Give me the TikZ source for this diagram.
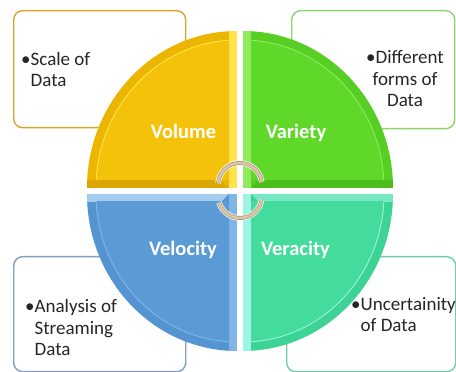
\documentclass[tikz,border=0pt]{standalone}
\usepackage{fontspec}
\setmainfont{Carlito}
\usepackage{tikz}
\usetikzlibrary{positioning}
% face, light bevel, edge bevel, straight-edge bevel and frame colour of each quarter
\definecolor{volume}{HTML}{F4C20A}
\definecolor{volumeL}{HTML}{FFE44E}
\definecolor{volumeD}{HTML}{EBB500}
\definecolor{volumeH}{HTML}{DCA600}
\definecolor{volumeB}{HTML}{D4A62A}
\definecolor{variety}{HTML}{60D82A}
\definecolor{varietyL}{HTML}{8DEB5C}
\definecolor{varietyD}{HTML}{57CE24}
\definecolor{varietyH}{HTML}{4BBE1C}
\definecolor{varietyB}{HTML}{8FD46A}
\definecolor{velocity}{HTML}{5B9BD5}
\definecolor{velocityL}{HTML}{80B6E6}
\definecolor{velocityD}{HTML}{5494D0}
\definecolor{velocityH}{HTML}{A4CCEF}
\definecolor{velocityB}{HTML}{7E9FC8}
\definecolor{veracity}{HTML}{44DC9C}
\definecolor{veracityL}{HTML}{9CF4E2}
\definecolor{veracityD}{HTML}{3DD394}
\definecolor{veracityH}{HTML}{7AE8C4}
\definecolor{veracityB}{HTML}{6CCFA6}
\definecolor{ring}{HTML}{D9C7A6}
\definecolor{ringedge}{HTML}{A8957A}

\begin{document}
\begin{tikzpicture}[
  x=1pt,y=1pt,
  box/.style={draw,rounded corners=9pt,line width=1.4pt,fill=white,
              inner sep=0pt,anchor=north west},
  note/.style={align=left,inner sep=0pt,font=\fontsize{19}{21.5}\selectfont,
               text=black!85},
  vlabel/.style={inner sep=0pt,anchor=base,text=white,
                 font=\fontsize{20.5}{24}\selectfont\bfseries},
  ring/.style={draw=ringedge,line width=0.7pt,double=ring,double distance=2.6pt,
               preaction={draw=white,line width=5.5pt}}
]
\useasboundingbox (0,0) rectangle (456,372);

% text frames behind the circle
\node[box,draw=volumeB,minimum width=172pt,minimum height=117pt] (scalebox) at (13,362) {};
\node[box,draw=varietyB,minimum width=163pt,minimum height=118pt] (formsbox) at (291,362) {};
\node[box,draw=velocityB,minimum width=172pt,minimum height=115pt] (streambox) at (13,116) {};
\node[box,draw=veracityB,minimum width=169pt,minimum height=115pt] (uncertbox) at (286,116) {};

% the four bevelled quarters
\foreach \cx/\cy/\sx/\sy/\ai/\aii/\fc/\lc/\dc/\hc in
  {237/184/-1/1/180/90/volume/volumeL/volumeD/volumeH,
   243/184/1/1/0/90/variety/varietyL/varietyD/varietyH,
   237/178/-1/-1/180/270/velocity/velocityL/velocityD/velocityH,
   243/178/1/-1/0/-90/veracity/veracityL/veracityD/veracityH}{
  \begin{scope}
    \path[clip] (\cx,\cy) -- ++(\sx*150,0)
      arc[start angle=\ai,end angle=\aii,x radius=150pt,y radius=157pt] -- cycle;
    \fill[\dc] (\cx,\cy) rectangle ++(\sx*160,\sy*160);
    \fill[\lc] (\cx,\cy) rectangle ++(\sx*8,\sy*160);
    \fill[\hc] (\cx+\sx*8,\cy) -- ++(\sx*160,0) -- ++(0,\sy*8) -- (\cx+\sx*16,\cy+\sy*8) -- cycle;
    \clip (\cx+\sx*8,\cy+\sy*8) rectangle ++(\sx*160,\sy*160);
    \filldraw[fill=\fc,draw=\lc,line width=0.9pt]
      (\cx,\cy) ellipse[x radius=141pt,y radius=148pt];
  \end{scope}
}

\node[note,anchor=base west] (scaletext) at (21,285) {•Scale of\\\phantom{•}Data};
\node[note,align=center,anchor=base] (formstext) at (405,265) {•Different\\forms of\\Data};
\node[note,anchor=base west] (streamtext) at (25,16) {•Analysis of\\\phantom{•}Streaming\\\phantom{•}Data};
\node[note,anchor=base west] (uncerttext) at (351,40) {•Uncertainity\\\phantom{•}of Data};

\node[vlabel] (volumelbl) at (183.5,233) {Volume};
\node[vlabel] (varietylbl) at (296,233.5) {Variety};
\node[vlabel] (velocitylbl) at (183,116) {Velocity};
\node[vlabel] (veracitylbl) at (295.5,116) {Veracity};

% circular arrows in the middle
\coordinate (hubup) at (240,187);
\coordinate (hubdown) at (240,176);
\draw[ring] ([shift={(8:22pt)}]hubup) arc[start angle=8,end angle=175,radius=22pt];
\draw[ring] ([shift={(197:22pt)}]hubdown) arc[start angle=197,end angle=350,radius=22pt];
\end{tikzpicture}
\end{document}
